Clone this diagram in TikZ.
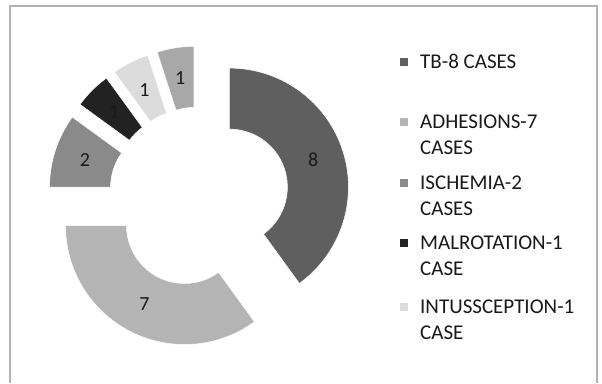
\documentclass[tikz,border=0pt]{standalone}
\usepackage{fontspec}
\setmainfont{Carlito}
\usepackage{tikz}
\usetikzlibrary{positioning}
\definecolor{tbgray}{HTML}{5F5F5F}
\definecolor{adhgray}{HTML}{B4B4B4}
\definecolor{ischgray}{HTML}{8A8A8A}
\definecolor{malgray}{HTML}{222222}
\definecolor{intgray}{HTML}{DCDCDC}
\definecolor{othgray}{HTML}{A8A8A8}
\tikzset{
 seg/.style
  = {draw=white, line width=0.5pt},
 num/.style
  = {font=\fontsize{20}{24}\selectfont, text=black!90, inner sep=0pt},
 key/.style
  = {minimum size=8pt, inner sep=0pt},
 keytext/.style
  = {font=\fontsize{21}{26}\selectfont, align=left, anchor=base west,
     inner sep=0pt, text=black!90},
}
\begin{document}
\begin{tikzpicture}[x=1pt,y=1pt]
\useasboundingbox (0,0) rectangle (602,383);

% Frame
\draw[black!30, line width=1.5pt] (10,0) -- (10,377) -- (597,377) -- (597,0);

% Donut slices, each pulled out from the centre
\begin{scope}[shift={(199,186)}]
\foreach \s/\e/\c/\v/\n in {90/-54/tbgray/8/tb, -54/-180/adhgray/7/adh,
    180/144/ischgray/2/isch, 144/126/malgray/1/mal,
    126/108/intgray/1/int, 108/90/othgray/1/oth}{
  \pgfmathsetmacro\m{(\s+\e)/2}
  \begin{scope}[shift={(\m:32)}]
    \fill[\c,seg] (\s:119) arc[start angle=\s, end angle=\e, radius=119]
      -- (\e:58) arc[start angle=\e, end angle=\s, radius=58] -- cycle;
    \node[num] (\n) at (\m:88) {\v};
  \end{scope}
}
\end{scope}

% Legend (two-line texts sit on the baseline of their last line)
\node[key, fill=tbgray] (ktb) at (404,321) {};
\node[keytext] (ttb) at (420,314.5) {TB-8 CASES};

\node[key, fill=adhgray] (kadh) at (404,261) {};
\node[keytext] (tadh) at (420,228.5) {ADHESIONS-7\\CASES};

\node[key, fill=ischgray] (kisch) at (404,200) {};
\node[keytext] (tisch) at (420,167.5) {ISCHEMIA-2\\CASES};

\node[key, fill=malgray] (kmal) at (404,140) {};
\node[keytext] (tmal) at (420,107.5) {MALROTATION-1\\CASE};

\node[key, fill=intgray] (kint) at (404,76) {};
\node[keytext] (tint) at (420,43.5) {INTUSSCEPTION-1\\CASE};

\end{tikzpicture}
\end{document}
